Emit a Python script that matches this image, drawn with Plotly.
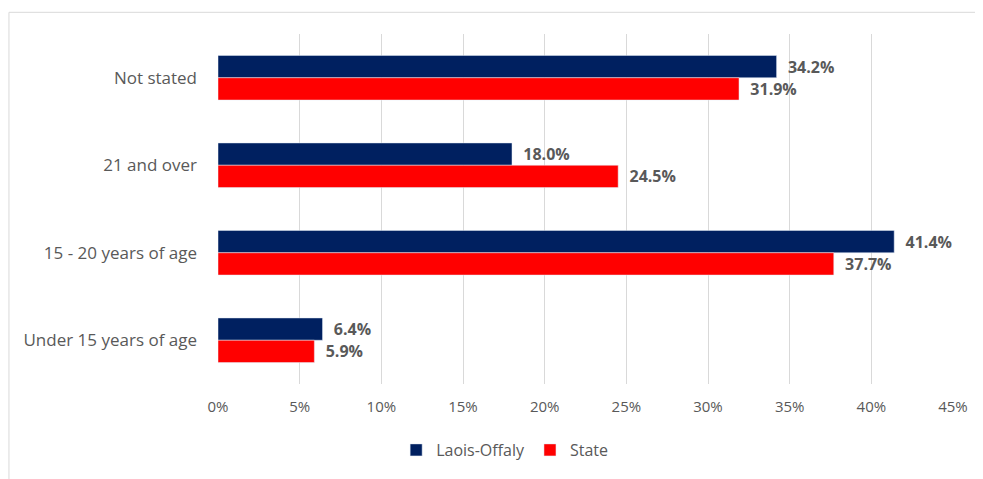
import plotly.graph_objects as go

categories = ["Not stated", "21 and over", "15 - 20 years of age", "Under 15 years of age"]
laois_offaly = [34.2, 18.0, 41.4, 6.4]
state = [31.9, 24.5, 37.7, 5.9]
x_ticks = [0, 5, 10, 15, 20, 25, 30, 35, 40, 45]
x_tick_labels = ["0%", "5%", "10%", "15%", "20%", "25%", "30%", "35%", "40%", "45%"]

FONT = "'Open Sans', 'Noto Sans', sans-serif"
GRAY = "#595959"

fig = go.Figure()
fig.add_trace(go.Bar(
    name="Laois-Offaly", y=categories, x=laois_offaly, orientation="h",
    marker=dict(color="#002060"),
    texttemplate="\u00a0\u00a0<b>%{x:.1f}%</b>", textposition="outside",
    textfont=dict(color=GRAY, size=16, family=FONT), cliponaxis=False,
))
fig.add_trace(go.Bar(
    name="State", y=categories, x=state, orientation="h",
    marker=dict(color="#FF0000"),
    texttemplate="\u00a0\u00a0<b>%{x:.1f}%</b>", textposition="outside",
    textfont=dict(color=GRAY, size=16, family=FONT), cliponaxis=False,
))

fig.update_layout(
    width=975, height=471,
    barmode="group", bargap=0.49, bargroupgap=0,
    plot_bgcolor="white", paper_bgcolor="white",
    margin=dict(l=210, r=30, t=26, b=90),
    font=dict(family=FONT, color=GRAY, size=15),
    xaxis=dict(
        range=[0, 45], tickvals=x_ticks, ticktext=x_tick_labels,
        showgrid=True, gridcolor="#D9D9D9", gridwidth=1,
        zeroline=False, showline=False, ticklabelstandoff=12,
        tickfont=dict(size=15, color=GRAY),
    ),
    yaxis=dict(
        autorange="reversed", showgrid=False, showline=False,
        ticklabelstandoff=20, tickfont=dict(size=17, color=GRAY),
    ),
    legend=dict(
        orientation="h", x=0.39, xanchor="center", y=-0.14, yanchor="top",
        font=dict(size=16, color=GRAY), itemwidth=30,
    ),
    shapes=[dict(
        type="rect", xref="paper", yref="paper",
        x0=-0.2844, x1=1.0367, y0=-0.3, y1=1.062,
        line=dict(color="#D9D9D9", width=1), fillcolor="rgba(0,0,0,0)",
    )],
)

fig.write_html("out.html")
